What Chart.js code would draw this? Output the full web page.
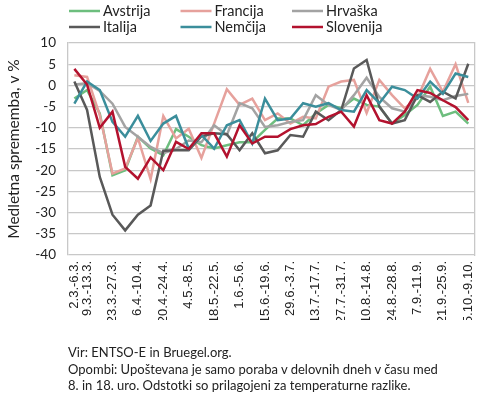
<!DOCTYPE html>
<html>
<head>
<meta charset="utf-8">
<script src="https://cdn.jsdelivr.net/npm/chart.js@4"></script>
<style>
  html,body{margin:0;padding:0;background:#fff;}
  #wrap{position:relative;width:490px;height:395px;}
  #note{position:absolute;left:68px;top:344px;font-family:Lato,"Open Sans",sans-serif;font-size:13px;line-height:16.5px;color:#222;white-space:nowrap;}
</style>
</head>
<body>
<div id="wrap">
  <canvas id="c" width="490" height="395"></canvas>
  <div id="note">Vir: ENTSO-E in Bruegel.org.<br>Opombi: Upoštevana je samo poraba v delovnih dneh v času med<br>8. in 18. uro. Odstotki so prilagojeni za temperaturne razlike.</div>
</div>
<script>
const weeks = ['2.3.-6.3.','9.3.-13.3.','16.3.-20.3.','23.3.-27.3.','30.3.-3.4.','6.4.-10.4.','13.4.-17.4.','20.4.-24.4.','27.4.-1.5.','4.5.-8.5.','11.5.-15.5.','18.5.-22.5.','25.5.-29.5.','1.6.-5.6.','8.6.-12.6.','15.6.-19.6.','22.6.-26.6.','29.6.-3.7.','6.7.-10.7.','13.7.-17.7.','20.7.-24.7.','27.7.-31.7.','3.8.-7.8.','10.8.-14.8.','17.8.-21.8.','24.8.-28.8.','31.8.-4.9.','7.9.-11.9.','14.9.-18.9.','21.9.-25.9.','28.9.-2.10.','5.10.-9.10.'];

const avstrija  = [-3.1,-1.1,-6.6,-21.2,-20,-12.1,-14.9,-16.5,-10.3,-12.1,-14.1,-14.9,-14.1,-13.4,-13.4,-10.5,-7.8,-7.8,-9.4,-6.6,-4.6,-5.4,-3.1,-4.6,-5,-9,-7,-4.6,-0.3,-7.2,-6.2,-9];
const francija  = [2.4,2,-7,-20.8,-19.6,-12.4,-22.1,-7.2,-12.5,-10.2,-17.1,-9,-0.9,-4.6,-3.1,-8.2,-6.6,-9,-7.4,-7.8,-0.3,0.9,1.3,-6.5,1.3,-2.3,-5.4,-3,3.9,-1.5,5,-4.1];
const hrvaska   = [0.2,0.5,-1.3,-4.3,-9.8,-12.1,-14.5,-16,-15,-13,-13.4,-9.4,-11.7,-4.2,-5.4,-9.8,-9.4,-8.6,-8.2,-2.3,-4.6,-5.8,-2.3,1.8,-2.7,-5.4,-6.2,-2.3,-2.7,-3.5,-2.5,-2];
const italija   = [0.9,-5.8,-21.6,-30.5,-34.2,-30.5,-28.3,-15.4,-15.3,-15.3,-12,-11.3,-11.5,-15.3,-11.3,-16,-15.3,-11.7,-12.1,-6.2,-8.2,-5.8,4,6,-5,-9,-8.2,-2.3,-3.9,-1.5,-3.1,5.1];
const nemcija   = [-4.3,0.9,-1.1,-8.6,-12.1,-7.2,-13.1,-9,-7.2,-14.9,-11.7,-14.9,-9.4,-8.2,-13.7,-3.1,-8.2,-7.8,-4.2,-5,-4.2,-5.8,-6.2,-1.1,-4.2,-0.3,-1.1,-3.1,0.9,-2,2.8,2];
const slovenija = [3.9,0.2,-10,-6.2,-19.2,-22,-17,-20,-13.3,-15,-11.3,-11.3,-16.8,-9.4,-13.7,-12.1,-12.1,-10.3,-9.4,-9.1,-7.4,-6.2,-9.7,-2.3,-8.2,-9,-6.2,-1.1,-1.8,-3.5,-5.1,-8.2];

const seriesNames = ['Avstrija','Francija','Hrvaška','Italija','Nemčija','Slovenija'];
const seriesData  = [avstrija, francija, hrvaska, italija, nemcija, slovenija];
const seriesColors = ['#6dbe7e','#e6a19c','#a3a3a3','#595959','#3b8e9b','#b3122e'];

const yMin = -40, yMax = 10, yStep = 5;

const colLegend = {
  id: 'colLegend',
  afterDraw(chart) {
    const ctx = chart.ctx;
    ctx.save();
    chart.data.datasets.forEach((ds, i) => {
      const col = i % 3, row = Math.floor(i / 3);
      const x = 69 + col * 111.5, y = 11 + row * 16;
      ctx.strokeStyle = ds.borderColor;
      ctx.lineWidth = 2.5;
      ctx.beginPath(); ctx.moveTo(x, y); ctx.lineTo(x + 31, y); ctx.stroke();
      ctx.fillStyle = '#222';
      ctx.font = '14.5px Lato, "Open Sans", sans-serif';
      ctx.textBaseline = 'middle';
      ctx.textAlign = 'left';
      ctx.fillText(ds.label, x + 34, y + 0.5);
    });
    ctx.restore();
  }
};

const gridCol = '#c8c8c8';

new Chart(document.getElementById('c'), {
  type: 'line',
  data: {
    labels: weeks,
    datasets: seriesNames.map((n, i) => ({
      label: n,
      data: seriesData[i],
      borderColor: seriesColors[i],
      backgroundColor: seriesColors[i],
      borderWidth: 2.5,
      pointRadius: 0,
      tension: 0,
      fill: false,
      order: seriesNames.length - i
    }))
  },
  options: {
    responsive: false,
    animation: false,
    layout: { padding: { left: 0, right: 7, top: 43, bottom: 75 } },
    plugins: { legend: { display: false }, tooltip: { enabled: false } },
    scales: {
      x: {
        offset: true,
        grid: { display: false, drawTicks: false },
        border: { display: false },
        ticks: {
          autoSkip: false,
          minRotation: 90,
          maxRotation: 90,
          padding: 6,
          color: '#222',
          font: { family: '"Liberation Sans Narrow", "Liberation Sans", sans-serif', size: 13 },
          callback: function(v, idx) { return (idx === 0 || idx % 2 === 1) ? weeks[idx] : ''; }
        },
        afterFit(scale) { scale.height = 65; }
      },
      y: {
        min: yMin, max: yMax,
        ticks: { stepSize: yStep, padding: 12, color: '#222', font: { family: 'Lato, "Open Sans", sans-serif', size: 13.5 } },
        grid: { color: gridCol, lineWidth: 1.3, drawTicks: false },
        border: { display: true, color: gridCol, width: 1.3 },
        title: { display: true, text: 'Medletna sprememba, v %', color: '#222', font: { family: 'Lato, "Open Sans", sans-serif', size: 15.5 }, padding: { top: 5, bottom: 0 } },
        afterFit(scale) { scale.width = 68; }
      },
      y2: {
        position: 'right',
        min: yMin, max: yMax,
        ticks: { display: false },
        grid: { display: false, drawTicks: false },
        border: { display: true, color: gridCol, width: 1.3 },
        afterFit(scale) { scale.width = 0; }
      }
    }
  },
  plugins: [colLegend]
});
</script>
</body>
</html>
